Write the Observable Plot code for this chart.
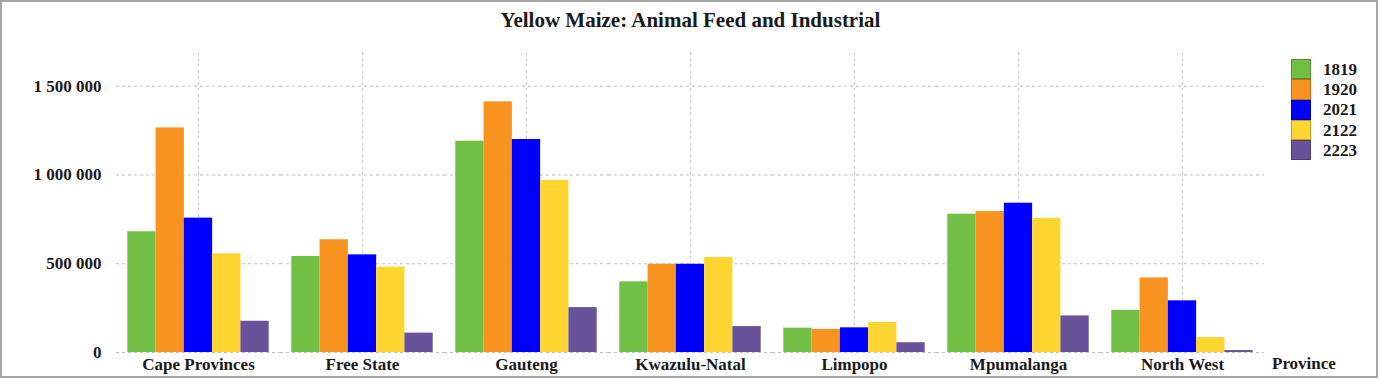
<!DOCTYPE html>
<html>
<head>
<meta charset="utf-8">
<script src="https://cdn.jsdelivr.net/npm/d3@7"></script>
<script src="https://cdn.jsdelivr.net/npm/@observablehq/plot@0.6"></script>
<style>
  html, body { margin: 0; padding: 0; background: #fff; }
  body { width: 1381px; height: 379px; position: relative; overflow: hidden; font-family: "Liberation Serif", serif; font-weight: bold; color: #1a1a1a; }
  #frame { position: absolute; left: 0; top: 0; width: 1378px; height: 378px; box-sizing: border-box; border: 2px solid #a6a6a6; }
  #chart { position: absolute; left: 0; top: 0; }
  #title { position: absolute; left: 0; top: 10px; width: 1381px; text-align: center; font-size: 21px; line-height: 21px; }
  #legend { position: absolute; left: 1291px; top: 59px; }
  .row { height: 20.3px; display: flex; align-items: center; }
  .sw { width: 20px; height: 20.3px; box-sizing: border-box; border: 1px solid rgba(0,0,0,0.25); }
  .lab { margin-left: 12px; font-size: 17px; line-height: 17px; }
  #xlabel { position: absolute; left: 1272px; top: 355px; font-size: 17px; line-height: 17px; }
</style>
</head>
<body>
<div id="frame"></div>
<div id="chart"></div>
<div id="title">Yellow Maize: Animal Feed and Industrial</div>
<div id="legend"></div>
<div id="xlabel">Province</div>
<script>
const provinces = ["Cape Provinces", "Free State", "Gauteng", "Kwazulu-Natal", "Limpopo", "Mpumalanga", "North West"];
const years = ["1819", "1920", "2021", "2122", "2223"];
const v1819 = [680000, 541000, 1190000, 398000, 137000, 779000, 237000];
const v1920 = [1265000, 635000, 1412000, 497000, 130000, 794000, 420000];
const v2021 = [757000, 550000, 1200000, 497000, 139000, 841000, 291000];
const v2122 = [556000, 481000, 969000, 535000, 169000, 755000, 84000];
const v2223 = [176000, 109000, 253000, 146000, 55000, 206000, 11000];
const colors = ["#71bf44", "#f7931e", "#0000ff", "#ffd631", "#68529a"];
const yTicks = [0, 500000, 1000000, 1500000];

const series = [v1819, v1920, v2021, v2122, v2223];
const data = provinces.flatMap((p, i) => years.map((yr, j) => ({province: p, year: yr, value: series[j][i]})));
const fmt = d => d3.format(",")(d).replace(/,/g, " ");
const midYear = years[Math.floor(years.length / 2)];

const chart = Plot.plot({
  width: 1381,
  height: 379,
  marginLeft: 116,
  marginRight: 117,
  marginTop: 52,
  marginBottom: 27,
  style: {fontFamily: "Liberation Serif, serif", fontWeight: "bold", fontSize: "17px", background: "transparent", color: "#1a1a1a"},
  fx: {domain: provinces, padding: 0, round: false, label: null, axis: null},
  x: {domain: years, paddingInner: 0, paddingOuter: 0.4, round: false, axis: null},
  y: {domain: [0, 1690000], label: null},
  color: {domain: years, range: colors},
  marks: [
    Plot.ruleX([midYear], {x: d => d, stroke: "#cfcfcf", strokeDasharray: "3,3"}),
    Plot.ruleY(yTicks, {stroke: "#c4c4c4", strokeDasharray: "3,3"}),
    Plot.barY(data, {fx: "province", x: "year", y: "value", fill: "year"}),
    Plot.axisY(yTicks, {tickSize: 0, tickPadding: 15, tickFormat: fmt, fontSize: 17, fontWeight: "bold", label: null}),
    Plot.axisFx({anchor: "bottom", tickSize: 0, tickPadding: 5, fontSize: 17, fontWeight: "bold", label: null})
  ]
});
document.getElementById("chart").appendChild(chart);

const legend = d3.select("#legend");
years.forEach((yr, j) => {
  const row = legend.append("div").attr("class", "row");
  row.append("div").attr("class", "sw").style("background", colors[j]);
  row.append("div").attr("class", "lab").text(yr);
});
</script>
</body>
</html>
